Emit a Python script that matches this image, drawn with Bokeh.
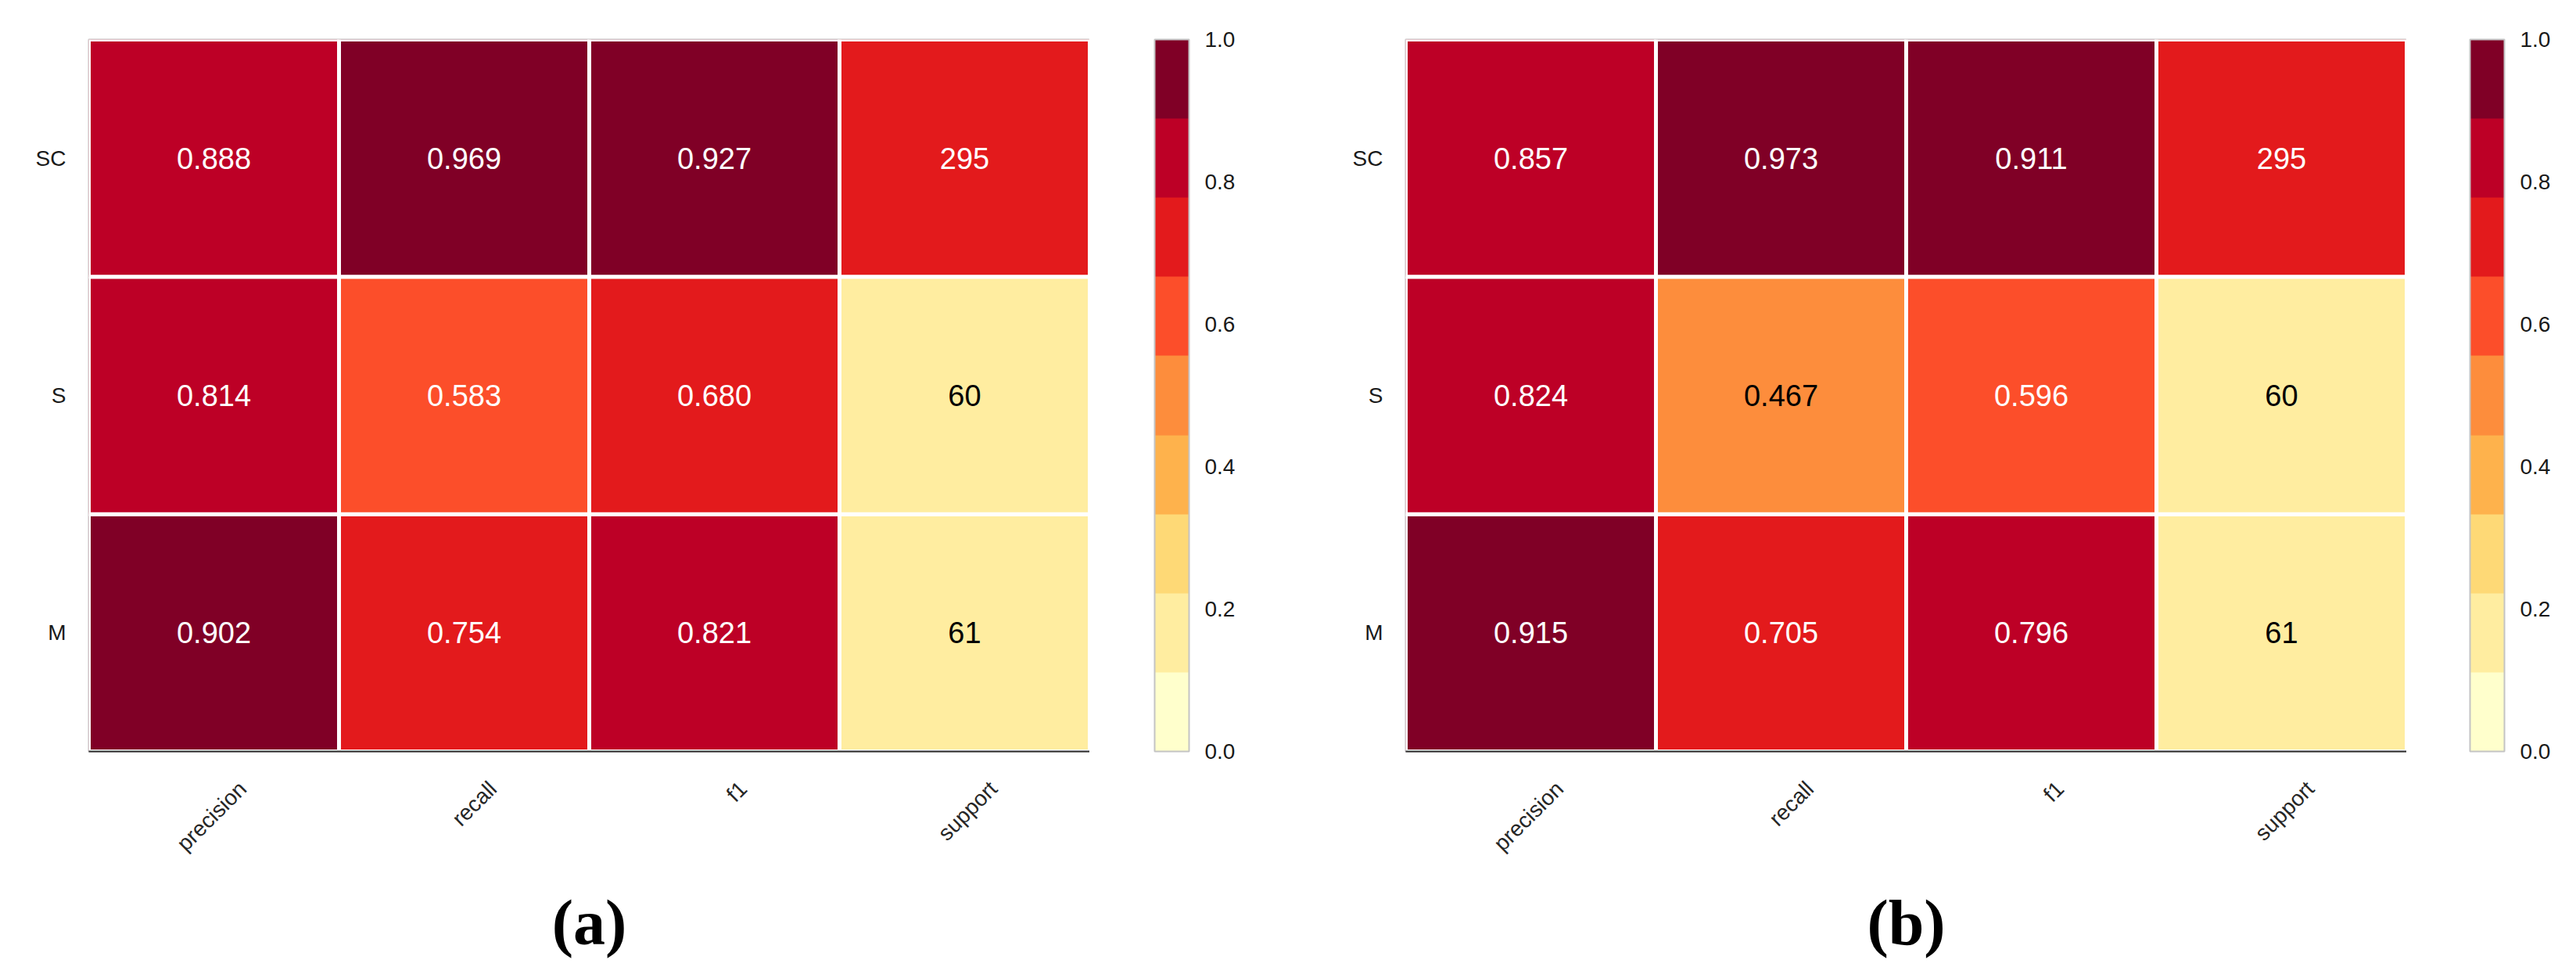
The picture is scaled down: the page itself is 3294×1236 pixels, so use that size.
import math
from bokeh.plotting import figure
from bokeh.layouts import row
from bokeh.models import (ColumnDataSource, FactorRange, LinearColorMapper, ColorBar,
                          FixedTicker, PrintfTickFormatter, LinearAxis, Range1d, Title)
from bokeh.transform import transform
from bokeh.palettes import YlOrRd9
from bokeh.core.properties import value
from bokeh.embed import file_html
from bokeh.resources import INLINE

# ---- data ----
metrics = ["precision", "recall", "f1", "support"]
classes = ["M", "S", "SC"]          # bottom -> top
support = {"SC": 295, "S": 60, "M": 61}

precision_a = {"SC": 0.888, "S": 0.814, "M": 0.902}
recall_a = {"SC": 0.969, "S": 0.583, "M": 0.754}
f1_a = {"SC": 0.927, "S": 0.680, "M": 0.821}

precision_b = {"SC": 0.857, "S": 0.824, "M": 0.915}
recall_b = {"SC": 0.973, "S": 0.467, "M": 0.705}
f1_b = {"SC": 0.911, "S": 0.596, "M": 0.796}

cbar_ticks = [0.0, 0.2, 0.4, 0.6, 0.8, 1.0]
panel_labels = ["(a)", "(b)"]

palette = list(reversed(YlOrRd9))   # light -> dark
FONT = "Liberation Sans"
TOP = 50
FRAME_H = 910
FRAME_W = 1280
BOTTOM = 268


def text_color_for(v):
    idx = min(int(v * len(palette)), len(palette) - 1)
    h = palette[idx].lstrip("#")
    r, g, b = (int(h[i:i + 2], 16) / 255 for i in (0, 2, 4))
    lum = 0.299 * r + 0.587 * g + 0.114 * b
    return "black" if lum > 0.55 else "white"


def heatmap(prec, rec, f1, label, left_border, mapper):
    total = sum(support.values())
    xs, ys, cs, txt = [], [], [], []
    for c in classes:
        for m, d in (("precision", prec), ("recall", rec), ("f1", f1)):
            xs.append(m); ys.append(c); cs.append(d[c])
            txt.append(f"{d[c]:.3f}")
        xs.append("support"); ys.append(c)
        cs.append(support[c] / total)
        txt.append(str(support[c]))
    xpos = [metrics.index(m) + 0.5 for m in xs]      # column centres
    tcol = [text_color_for(v) for v in cs]
    src = ColumnDataSource(dict(x=xpos, m=xs, y=ys, c=cs, t=txt, tc=tcol))

    n = len(metrics)
    shift = 0.115   # rotated tick labels are centred on their column
    p = figure(frame_width=FRAME_W, frame_height=FRAME_H, x_range=Range1d(0, n),
               y_range=FactorRange(*classes), output_backend="svg",
               toolbar_location=None, x_axis_location=None,
               min_border_left=left_border, min_border_right=0,
               min_border_top=TOP, min_border_bottom=BOTTOM)
    p.extra_x_ranges = {"lab": Range1d(-shift, n - shift)}
    p.rect(x="x", y="y", width=1, height=1, source=src,
           fill_color=transform("c", mapper), line_color="white", line_width=5)
    p.text(x="x", y="y", text="t", source=src, text_color="tc",
           text_align="center", text_baseline="middle",
           text_font=value(FONT), text_font_size="38px")

    p.grid.visible = False
    p.outline_line_color = "#c4c4c4"
    p.outline_line_width = 2
    p.background_fill_color = "white"
    p.border_fill_color = "white"

    yax = p.yaxis[0]
    yax.axis_line_color = None
    yax.major_tick_line_color = None
    yax.minor_tick_line_color = None
    yax.major_label_standoff = 23
    yax.major_label_text_font = FONT
    yax.major_label_text_font_size = "28px"
    yax.major_label_text_color = "#1a1a1a"

    ticks = [i + 0.5 for i in range(n)]
    xax = LinearAxis(x_range_name="lab", ticker=FixedTicker(ticks=ticks),
                     major_label_overrides={t: m for t, m in zip(ticks, metrics)},
                     major_label_orientation=math.pi / 4,
                     major_label_standoff=37,
                     major_label_text_font=FONT, major_label_text_font_size="28px",
                     major_label_text_color="#262626",
                     axis_line_color="#2b2b2b", axis_line_width=2,
                     major_tick_line_color=None, minor_tick_line_color=None)
    p.add_layout(xax, "below")

    t = Title(text=label, align="center", offset=62, standoff=49,
              text_font="Liberation Serif", text_font_style="bold",
              text_font_size="82px", text_color="black")
    p.add_layout(t, "below")
    return p


def colorbar_fig(mapper, gap, right_border):
    p = figure(frame_width=gap, frame_height=FRAME_H, output_backend="svg",
               toolbar_location=None, x_axis_location=None, y_axis_location=None,
               min_border_left=0, min_border_right=right_border,
               min_border_top=TOP, min_border_bottom=BOTTOM)
    p.grid.visible = False
    p.outline_line_color = None
    p.background_fill_color = "white"
    p.border_fill_color = "white"
    cb = ColorBar(color_mapper=mapper, ticker=FixedTicker(ticks=cbar_ticks),
                  formatter=PrintfTickFormatter(format="%.1f"),
                  major_label_text_font=FONT, major_label_text_font_size="28px",
                  major_label_text_color="#1a1a1a",
                  major_tick_line_color=None, minor_tick_line_color=None,
                  bar_line_color="#c4c4c4", bar_line_width=2,
                  border_line_color=None, background_fill_color=None,
                  width=44, padding=0, margin=0, label_standoff=20)
    p.add_layout(cb, "right")
    return p


mapper_a = LinearColorMapper(palette=palette, low=0.0, high=1.0)
mapper_b = LinearColorMapper(palette=palette, low=0.0, high=1.0)
pa = heatmap(precision_a, recall_a, f1_a, panel_labels[0], 113, mapper_a)
ca = colorbar_fig(mapper_a, 83, 174)
pb = heatmap(precision_b, recall_b, f1_b, panel_labels[1], 147, mapper_b)
cbb = colorbar_fig(mapper_b, 81, 128)
layout = row(pa, ca, pb, cbb, spacing=0)

open("out.html", "w").write(file_html(layout, INLINE))
